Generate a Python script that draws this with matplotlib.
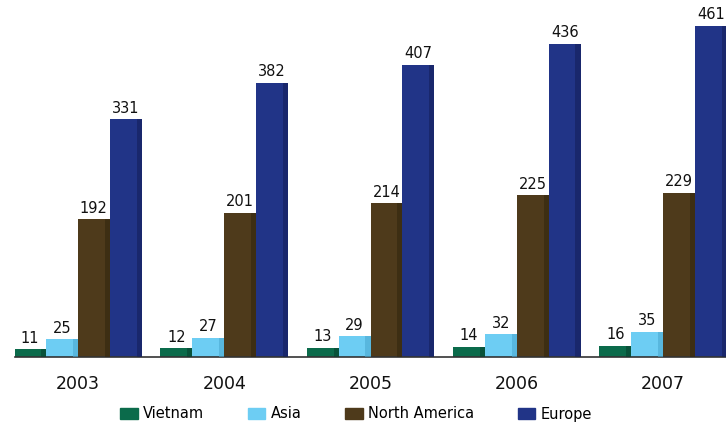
import matplotlib
matplotlib.use("Agg")
import matplotlib.pyplot as plt
import numpy as np

years = ["2003", "2004", "2005", "2006", "2007"]
series_names = ["Vietnam", "Asia", "North America", "Europe"]
vietnam = [11, 12, 13, 14, 16]
asia = [25, 27, 29, 32, 35]
north_america = [192, 201, 214, 225, 229]
europe = [331, 382, 407, 436, 461]
colors = ["#0b6b4b", "#6dcdf3", "#4e3a1b", "#213487"]
shade = ["#064230", "#4aa9d0", "#33260f", "#141f5a"]

plt.rcParams['font.family'] = ['DejaVu Sans']
fig = plt.figure(figsize=(7.26, 4.26), dpi=100)
ax = fig.add_axes([15/726, 69/426, 711/726, 357/426])

data = [vietnam, asia, north_america, europe]
x = np.arange(len(years))
w = 0.218
for i, (vals, c, sc, name) in enumerate(zip(data, colors, shade, series_names)):
    pos = x + (i - 1.5) * w
    ax.bar(pos, vals, width=w, color=c, label=name, zorder=2)
    # right-side shading strip for depth
    ax.bar(pos + w*0.42, vals, width=w*0.16, color=sc, zorder=3, alpha=0.6)
    for p, v in zip(pos, vals):
        ax.annotate(str(v), (p, v), xytext=(0, 2.5), textcoords='offset points',
                    ha='center', va='bottom', fontsize=10.5, color='#111111')

ax.set_xlim(-0.43, 4.43)
ax.set_ylim(0, 497)
ax.set_yticks([])
ax.set_xticks(x)
ax.set_xticklabels(years, fontsize=12.5, color='#111111')
ax.tick_params(axis='x', length=0, pad=13)
for s in ['top', 'right', 'left']:
    ax.spines[s].set_visible(False)
ax.spines['bottom'].set_color('#333333')
ax.spines['bottom'].set_linewidth(1.2)

handles = [plt.Rectangle((0, 0), 1, 1, color=c) for c in colors]
fig.legend(handles, series_names, loc='center', bbox_to_anchor=(356/726, 1 - 414/426),
           ncol=4, frameon=False, handlelength=1.2, handleheight=0.7,
           handletextpad=0.35, columnspacing=3.0, prop={'size': 10.5})

fig.savefig("out.png", dpi=100)
